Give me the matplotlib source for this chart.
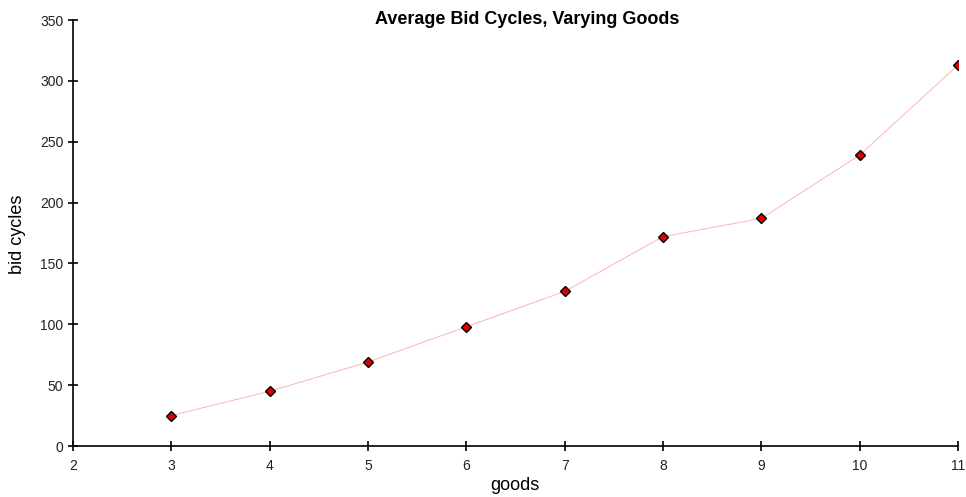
import numpy as np
import matplotlib.pyplot as plt

plt.rcParams['font.family'] = ['Liberation Sans', 'DejaVu Sans']

goods = [3, 4, 5, 6, 7, 8, 9, 10, 11]
bid_cycles = [25, 45, 69, 98, 127, 172, 187, 239, 313]

fig = plt.figure(figsize=(9.66, 4.97), dpi=100)
ax = fig.add_axes([73 / 966, 51 / 497, 885 / 966, 426 / 497])

ax.plot(goods, bid_cycles, color='#ffb3b3', lw=0.7, marker='D', ms=5,
        mfc='#dd0000', mec='black', mew=1.0)

ax.set_xlim(2, 11)
ax.set_ylim(0, 350)
ax.set_xticks(range(2, 12))
ax.set_yticks(range(0, 351, 50))
for s in ['top', 'right']:
    ax.spines[s].set_visible(False)
for s in ['left', 'bottom']:
    ax.spines[s].set_linewidth(1.2)
ax.tick_params(direction='inout', length=7, width=1.2, labelsize=10,
               labelcolor='#222222')
ax.tick_params(axis='x', pad=6)

fig.text(527 / 966, 1 - 20 / 497, 'Average Bid Cycles, Varying Goods',
         ha='center', va='center', fontsize=13, fontweight='bold')
fig.text(515 / 966, 1 - 486 / 497, 'goods', ha='center', va='center', fontsize=13)
fig.text(18 / 966, 1 - 234 / 497, 'bid cycles', ha='center', va='center',
         rotation=90, fontsize=13)

fig.savefig('out.png', dpi=100)
